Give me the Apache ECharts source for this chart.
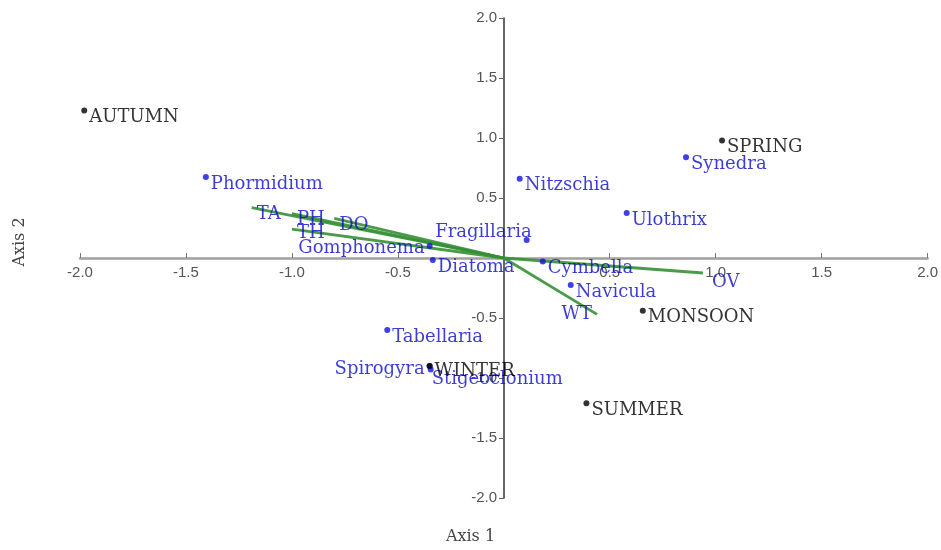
<!DOCTYPE html>
<html>
<head>
<meta charset="utf-8">
<script src="https://cdn.jsdelivr.net/npm/echarts@6/dist/echarts.min.js"></script>
<style>html,body{margin:0;padding:0;background:#fff}#c{width:941px;height:550px}</style>
</head>
<body>
<div id="c"></div>
<script>
// Sites (seasons)
const seasonNames = ['AUTUMN','SPRING','MONSOON','SUMMER','WINTER'];
const seasonX = [-1.98, 1.03, 0.656, 0.39, -0.35];
const seasonY = [1.23, 0.98, -0.44, -1.21, -0.90];

// Species
const speciesNames = ['Phormidium','Nitzschia','Synedra','Ulothrix','Fragillaria','Gomphonema','Diatoma','Cymbella','Navicula','Tabellaria','Spirogyra','Stigeoclonium'];
const speciesX = [-1.406, 0.075, 0.86, 0.58, 0.108, -0.35, -0.335, 0.184, 0.316, -0.55, -0.35, -0.345];
const speciesY = [0.675, 0.66, 0.84, 0.375, 0.15, 0.10, -0.017, -0.03, -0.225, -0.60, -0.90, -0.93];

// Environmental vectors
const envNames = ['TA','PH','TH','DO','WT','OV'];
const envX = [-1.19, -1.0, -1.0, -0.80, 0.44, 0.94];
const envY = [0.42, 0.37, 0.24, 0.33, -0.47, -0.125];

const serif = 'DejaVu Serif';
const blue = '#0c0cc8';
const black = '#000000';
const green = '#359035';

// label placement styles
const seasonLabel = {
  AUTUMN:{position:'right',offset:[0,7]},
  SPRING:{position:'right',offset:[0,7]},
  MONSOON:{position:'right',offset:[0,7]},
  SUMMER:{position:'right',offset:[0,7]},
  WINTER:{position:'right',offset:[0,5]}
};
const speciesLabel = {
  Fragillaria:{position:'left',offset:[10,-8]},
  Gomphonema:{position:'left',offset:[0,2]},
  Spirogyra:{position:'left',offset:[0,3]},
  Stigeoclonium:{position:'right',offset:[-4,10]}
};
const envLabel = {
  TA:{position:'right',offset:[0,7]},
  PH:{position:'right',offset:[0,6]},
  TH:{position:'right',offset:[0,4]},
  DO:{position:'right',offset:[0,7]},
  WT:{position:'left',offset:[0,0]},
  OV:{position:'right',offset:[4,9]}
};

const seasonData = seasonNames.map((n,i)=>({name:n,value:[seasonX[i],seasonY[i]],label:seasonLabel[n]}));
const speciesData = speciesNames.map((n,i)=>({name:n,value:[speciesX[i],speciesY[i]],label:speciesLabel[n]||{position:'right',offset:[0,7]}}));
const envLines = envNames.map((n,i)=>({coords:[[0,0],[envX[i],envY[i]]]}));
const envEnds = envNames.map((n,i)=>({name:n,value:[envX[i],envY[i]],label:envLabel[n]}));

const chart = echarts.init(document.getElementById('c'));
chart.setOption({
  backgroundColor:'#fff',
  animation:false,
  grid:{left:80,right:13,top:18,bottom:52},
  xAxis:{
    type:'value',min:-2,max:2,interval:0.5,position:'bottom',offset:-240,
    axisLine:{onZero:false,lineStyle:{color:'#a0a0a0',width:2.5}},
    axisTick:{show:true,inside:true,length:5,lineStyle:{color:'#777',width:1}},
    axisLabel:{margin:7,color:'#555',fontFamily:'Liberation Sans',fontSize:15,
      formatter:v=>Math.abs(v)<1e-9?'':v.toFixed(1)},
    splitLine:{show:false}
  },
  yAxis:{
    type:'value',min:-2,max:2,interval:0.5,position:'left',offset:-424,
    axisLine:{onZero:false,lineStyle:{color:'#333',width:1.5}},
    axisTick:{show:true,length:5,lineStyle:{color:'#666',width:1}},
    axisLabel:{margin:7,color:'#555',fontFamily:'Liberation Sans',fontSize:15,
      formatter:v=>Math.abs(v)<1e-9?'':v.toFixed(1)},
    splitLine:{show:false}
  },
  graphic:[
    {type:'text',left:'center',top:529,style:{text:'Axis 1',font:'16px "DejaVu Serif"',fill:'#444'}},
    {type:'text',x:12,y:242,rotation:Math.PI/2,style:{text:'Axis 2',font:'16px "DejaVu Serif"',fill:'#444',align:'center',verticalAlign:'top'}}
  ],
  series:[
    {type:'lines',coordinateSystem:'cartesian2d',data:envLines,
      lineStyle:{color:green,width:2.8,opacity:0.9},symbol:'none',z:3},
    {type:'scatter',data:envEnds,symbolSize:0,z:4,
      label:{show:true,formatter:'{b}',color:blue,fontFamily:serif,fontSize:18}},
    {type:'scatter',data:speciesData,symbolSize:6,itemStyle:{color:'#1010e0'},z:5,
      label:{show:true,formatter:'{b}',color:blue,fontFamily:serif,fontSize:18,distance:2}},
    {type:'scatter',data:seasonData,symbolSize:6,itemStyle:{color:black},z:6,
      label:{show:true,formatter:'{b}',color:black,fontFamily:serif,fontSize:18,distance:2}}
  ]
});
</script>
</body>
</html>
